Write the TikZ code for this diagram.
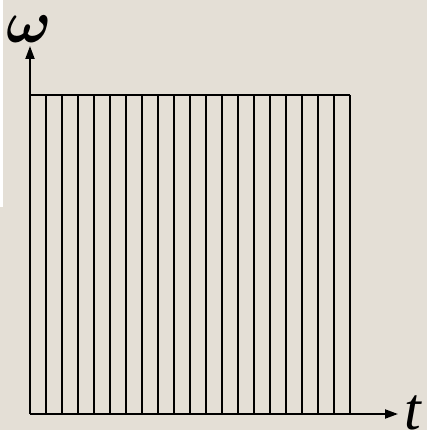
\documentclass[tikz,border=0pt]{standalone}
\usepackage{fontspec}
\setmainfont{Liberation Serif}
\usetikzlibrary{arrows.meta,positioning}
\definecolor{paper}{RGB}{228,223,214}

\begin{document}
\begin{tikzpicture}[x=1pt,y=-1pt,>={Triangle[length=13pt,width=9pt]}]
  \tikzstyle{stripe}=[draw=black,line width=1.6pt]
  \tikzstyle{axis}=[draw=black,line width=2pt,->]
  \tikzstyle{lbl}=[font=\fontsize{60}{60}\selectfont\itshape,inner sep=0pt]
  \fill[paper] (0,0) rectangle (427,430);
  \fill[white] (0,0) rectangle (3,207);
  \useasboundingbox (0,0) rectangle (427,430);

  \coordinate (o) at (30,414);
  \coordinate (ytip) at (30,46);
  \coordinate (xtip) at (398,414);

  % band of equal frequency strips
  \foreach \i in {1,...,20}
    \draw[stripe] (30+16*\i,95) -- (30+16*\i,414);
  \draw[stripe] (30,95) -- (350,95);

  \draw[axis] (o) -- (ytip);
  \draw[axis] (o) -- (xtip);

  \node[inner sep=0pt,anchor=base west] (omega) at (6,43) {\scalebox{6}{\boldmath$\omega$}};
  \node[lbl,anchor=base west] (time) at (404,429) {t};
\end{tikzpicture}
\end{document}
